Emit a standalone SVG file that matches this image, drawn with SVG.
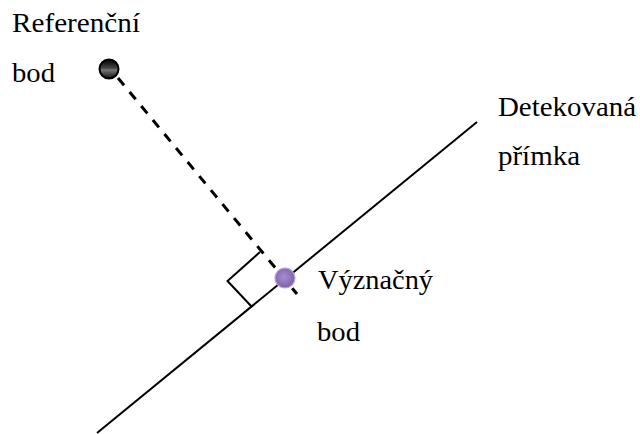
<svg xmlns="http://www.w3.org/2000/svg" width="640" height="434" viewBox="0 0 640 434">
<style>
.lbl{font-family:'Liberation Serif','DejaVu Serif',serif;font-size:27px;fill:#000}
.ln{stroke:#000;stroke-width:2;fill:none}
.dash{stroke:#000;stroke-width:3;fill:none;stroke-dasharray:9.5 8.7}
</style>
<defs>
<linearGradient id="gBlack" x1="0" y1="0" x2="0" y2="1">
<stop offset="0" stop-color="#000"/>
<stop offset="0.45" stop-color="#444"/>
<stop offset="0.55" stop-color="#777"/>
<stop offset="1" stop-color="#111"/>
</linearGradient>
<radialGradient id="gPurple" cx="0.45" cy="0.45" r="0.6">
<stop offset="0" stop-color="#a58fcf"/>
<stop offset="0.7" stop-color="#8a6bb5"/>
<stop offset="1" stop-color="#7a5ca8"/>
</radialGradient>
</defs>
<g id="connectors">
<line class="ln" x1="97" y1="433" x2="477" y2="122"/>
<line class="dash" x1="118" y1="78" x2="297" y2="294"/>
<polyline class="ln" points="260,252 227.5,281 252,307"/>
</g>
<g id="ref-point">
<circle cx="109" cy="69" r="9.5" fill="url(#gBlack)" stroke="#000" stroke-width="2"/>
</g>
<g id="significant-point">
<circle cx="285" cy="278" r="10" fill="url(#gPurple)" stroke="#b7a6d8" stroke-width="1.2"/>
</g>
<g id="label-ref">
<text class="lbl" font-family="Liberation Serif" x="12" y="32" textLength="128" lengthAdjust="spacingAndGlyphs">Referenční</text>
<text class="lbl" font-family="Liberation Serif" x="12" y="82" textLength="43" lengthAdjust="spacingAndGlyphs">bod</text>
</g>
<g id="label-line">
<text class="lbl" font-family="Liberation Serif" x="498" y="116" textLength="138" lengthAdjust="spacingAndGlyphs">Detekovaná</text>
<text class="lbl" font-family="Liberation Serif" x="498" y="165" textLength="82" lengthAdjust="spacingAndGlyphs">přímka</text>
</g>
<g id="label-significant">
<text class="lbl" font-family="Liberation Serif" x="318" y="289" textLength="115" lengthAdjust="spacingAndGlyphs">Význačný</text>
<text class="lbl" font-family="Liberation Serif" x="317" y="341" textLength="43" lengthAdjust="spacingAndGlyphs">bod</text>
</g>
</svg>
